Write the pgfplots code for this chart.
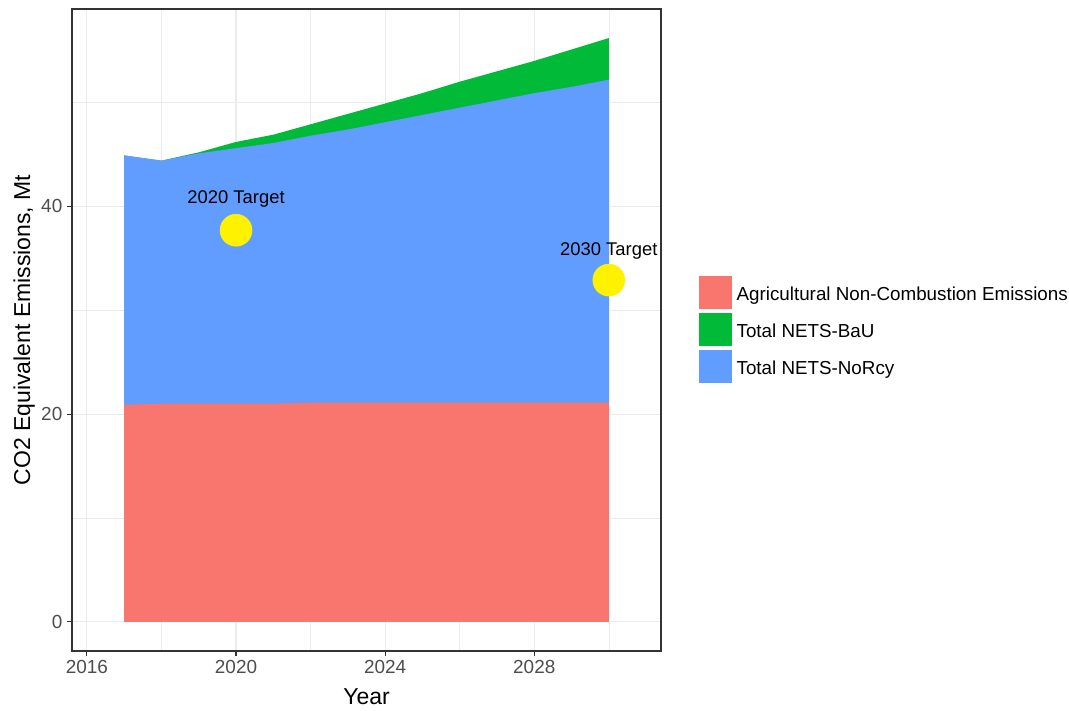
\documentclass[border=0pt]{standalone}
\usepackage{pgfplots}
\pgfplotsset{compat=1.18}
\usepackage{fontspec}
\setmainfont{Liberation Sans}
\definecolor{agri}{HTML}{F8766D}
\definecolor{bau}{HTML}{00BA38}
\definecolor{norcy}{HTML}{619CFF}
\definecolor{grid92}{HTML}{EBEBEB}
\definecolor{grey20}{HTML}{333333}
\definecolor{grey30}{HTML}{4D4D4D}
\begin{document}
\begin{tikzpicture}
\begin{axis}[
    at={(0,0)}, anchor=south west,
    scale only axis,
    width=441.75pt, height=481.5pt,
    xmin=2015.6, xmax=2031.4,
    ymin=-2.81, ymax=59.0,
    xtick={2016,2020,2024,2028},
    minor xtick={2018,2022,2026,2030},
    ytick={0,20,40},
    minor ytick={10,30,50},
    tick pos=left,
    grid=both,
    major grid style={color=grid92, line width=0.8pt},
    minor grid style={color=grid92, line width=0.45pt},
    axis line style={color=grey20, line width=0.8pt},
    tick align=outside,
    major tick length=3.75pt,
    minor tick length=0pt,
    major tick style={color=grey20, line width=0.8pt},
    /pgf/number format/assume math mode=true,
    /pgf/number format/1000 sep={},
    tick label style={font=\fontsize{14.2}{16}\selectfont, color=grey30},
    xlabel={Year},
    ylabel={CO2 Equivalent Emissions, Mt},
    label style={font=\fontsize{17.25}{20}\selectfont},
    xlabel style={at={(axis description cs:0.5,-0.0826)}, anchor=base},
    ylabel style={at={(axis description cs:-0.0713,0.5)}, anchor=base},
    legend style={at={(1,0.5)}, anchor=west, xshift=27.75pt, yshift=0.5pt,
        draw=none, fill=none, inner sep=0pt, row sep=1.5pt,
        font=\fontsize{14.1}{16}\selectfont,
        nodes={inner sep=1pt},
        /tikz/every odd column/.append style={column sep=1.5pt}},
    legend cell align=left,
    legend image code/.code={%
        \draw[#1, draw=white, line width=0.75pt] (0pt,-11pt) rectangle (25.5pt,14.5pt);},
]
% Total NETS-BaU
\addplot[fill=bau, draw=none, forget plot] table {
x y
2017 44.9
2018 44.4
2019 45.2
2020 46.2
2021 46.9
2022 47.9
2023 48.9
2024 49.9
2025 50.9
2026 52.0
2027 53.0
2028 54.0
2029 55.1
2030 56.2
} \closedcycle;
% Total NETS-NoRcy
\addplot[fill=norcy, draw=none, forget plot] table {
x y
2017 44.9
2018 44.4
2019 45.1
2020 45.6
2021 46.1
2022 46.8
2023 47.4
2024 48.1
2025 48.8
2026 49.5
2027 50.2
2028 50.9
2029 51.5
2030 52.2
} \closedcycle;
% Agricultural Non-Combustion Emissions
\addplot[fill=agri, draw=none, forget plot] table {
x y
2017 20.9
2018 21.0
2019 21.0
2020 21.0
2021 21.0
2022 21.1
2023 21.1
2024 21.1
2025 21.1
2026 21.1
2027 21.1
2028 21.1
2029 21.1
2030 21.1
} \closedcycle;
% targets
\addplot[only marks, mark=*, mark size=12pt, color=yellow, forget plot] coordinates {
(2020,37.7) (2030,32.9)
};
\node[anchor=base, font=\fontsize{13.8}{16}\selectfont] at (axis cs:2020,40.3) {2020 Target};
\node[anchor=base, font=\fontsize{13.8}{16}\selectfont] at (axis cs:2030,35.3) {2030 Target};
\addlegendimage{fill=agri}
\addlegendentry{Agricultural Non-Combustion Emissions}
\addlegendimage{fill=bau}
\addlegendentry{Total NETS-BaU}
\addlegendimage{fill=norcy}
\addlegendentry{Total NETS-NoRcy}
\end{axis}
\pgfresetboundingbox
\useasboundingbox (-54pt,-44.25pt) rectangle (747.75pt,488.25pt);
\end{tikzpicture}
\end{document}
